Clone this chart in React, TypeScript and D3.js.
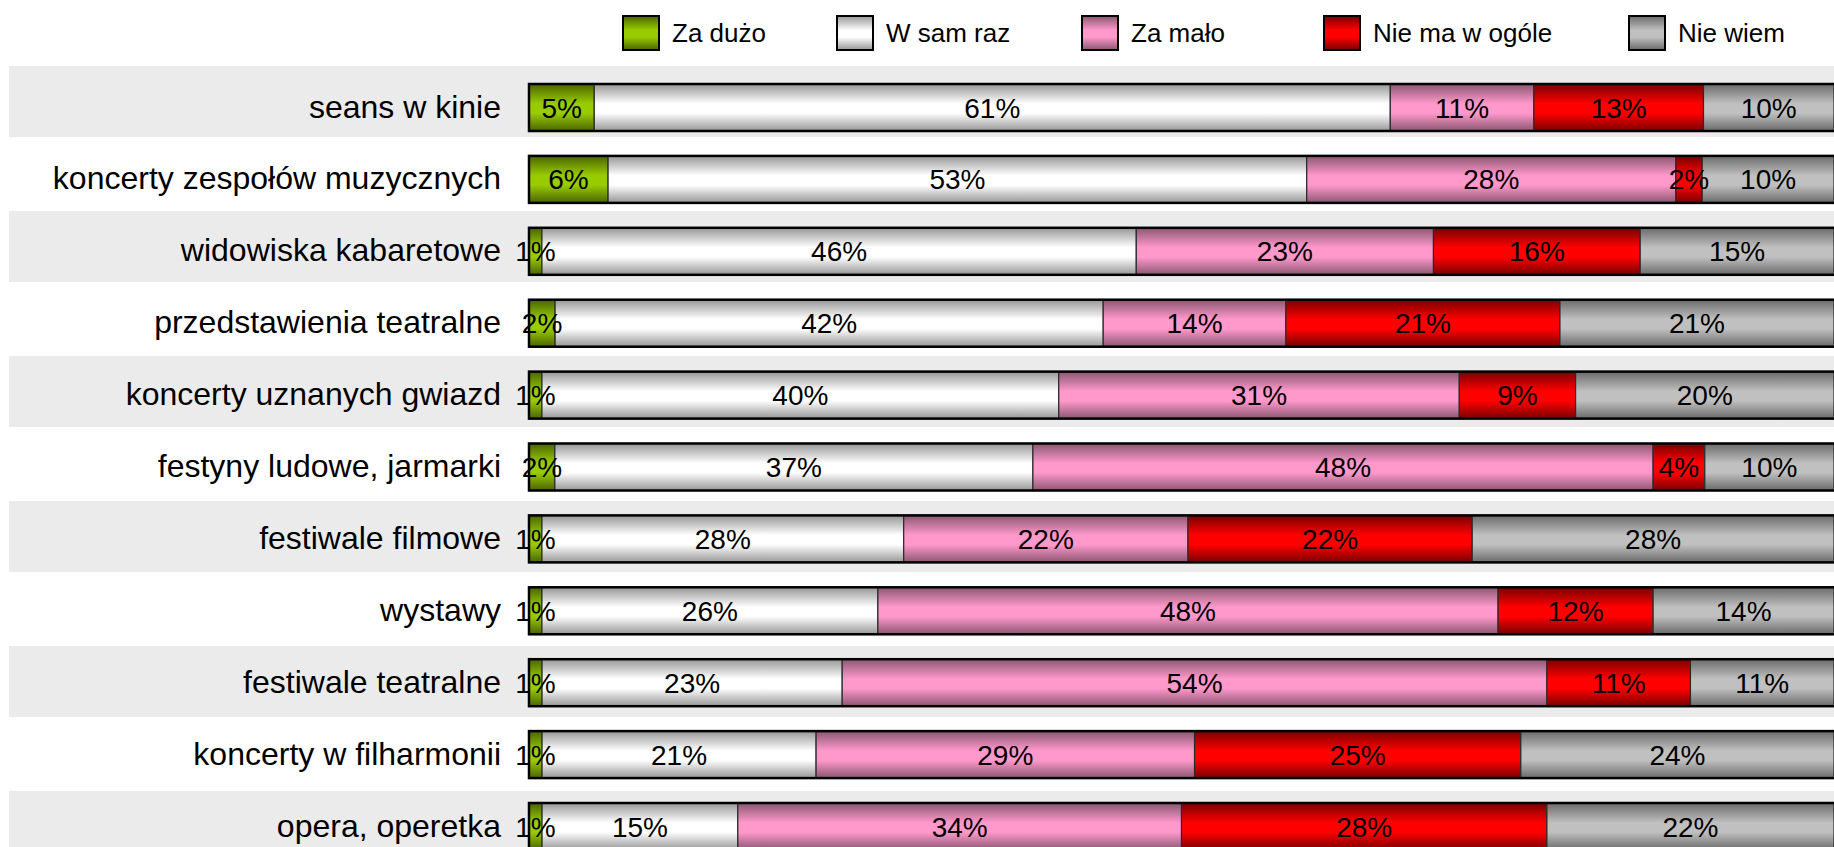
import React, { useEffect, useRef } from 'react';
import * as d3 from 'd3';

const categories = [
  'seans w kinie',
  'koncerty zespołów muzycznych',
  'widowiska kabaretowe',
  'przedstawienia teatralne',
  'koncerty uznanych gwiazd',
  'festyny ludowe, jarmarki',
  'festiwale filmowe',
  'wystawy',
  'festiwale teatralne',
  'koncerty w filharmonii',
  'opera, operetka',
];

const seriesNames = ['Za dużo', 'W sam raz', 'Za mało', 'Nie ma w ogóle', 'Nie wiem'];

const zaDuzo = [5, 6, 1, 2, 1, 2, 1, 1, 1, 1, 1];
const wSamRaz = [61, 53, 46, 42, 40, 37, 28, 26, 23, 21, 15];
const zaMalo = [11, 28, 23, 14, 31, 48, 22, 48, 54, 29, 34];
const nieMa = [13, 2, 16, 21, 9, 4, 22, 12, 11, 25, 28];
const nieWiem = [10, 10, 15, 21, 20, 10, 28, 14, 11, 24, 22];

// [edge, middle] colours of each series gradient
const seriesColors = [
  ['#4a6400', '#99cc00'],
  ['#969696', '#ffffff'],
  ['#8a5670', '#ff99cc'],
  ['#780000', '#ff0000'],
  ['#6a6a6a', '#c0c0c0'],
];

const legendX = [623, 837, 1082, 1324, 1629];

export default function App() {
  const svgRef = useRef<SVGSVGElement>(null);

  useEffect(() => {
    if (!svgRef.current) return;
    const width = 1834;
    const height = 847;
    const svg = d3.select(svgRef.current);
    svg.selectAll('*').remove();
    svg.attr('width', width).attr('height', height);

    const font = 'Liberation Sans, Arial, sans-serif';
    const seriesVals = [zaDuzo, wSamRaz, zaMalo, nieMa, nieWiem];

    const rows = categories.map((c, i) => {
      const r: any = { cat: c };
      seriesNames.forEach((s, j) => { r[s] = seriesVals[j][i]; });
      return r;
    });

    const stack = d3.stack<any>().keys(seriesNames).offset(d3.stackOffsetExpand);
    const stacked = stack(rows);

    const x = d3.scaleLinear().domain([0, 1]).range([529, 1834]);
    // background bands and bars use slightly different steps, as in the original
    const band = d3.scaleBand().domain(categories).range([66, 66 + 72.5 * categories.length]).padding(0);
    const yBar = d3.scaleBand().domain(categories).range([84, 84 + 71.9 * categories.length]).padding(0);
    const barH = 47;

    // gradients
    const defs = svg.append('defs');
    seriesColors.forEach((c, j) => {
      const lg = defs.append('linearGradient')
        .attr('id', `grad${j}`)
        .attr('x1', 0).attr('y1', 0).attr('x2', 0).attr('y2', 1);
      lg.append('stop').attr('offset', '0%').attr('stop-color', c[0]);
      lg.append('stop').attr('offset', '42%').attr('stop-color', c[1]);
      lg.append('stop').attr('offset', '62%').attr('stop-color', c[1]);
      lg.append('stop').attr('offset', '100%').attr('stop-color', c[0]);
    });

    // background bands
    svg.append('g')
      .selectAll('rect')
      .data(categories.filter((_, i) => i % 2 === 0))
      .join('rect')
      .attr('x', 9)
      .attr('y', d => band(d)!)
      .attr('width', width - 9)
      .attr('height', 71)
      .attr('fill', '#ebebeb');

    // category labels
    svg.append('g')
      .selectAll('text')
      .data(categories)
      .join('text')
      .attr('x', 501)
      .attr('y', d => yBar(d)! + barH / 2 + 10)
      .attr('text-anchor', 'end')
      .style('font-family', font)
      .style('font-size', '32px')
      .style('fill', '#000')
      .text(d => d);

    // segments
    const segG = svg.append('g');
    stacked.forEach((layer, j) => {
      segG.append('g')
        .selectAll('rect')
        .data(layer)
        .join('rect')
        .attr('x', d => x(d[0]))
        .attr('y', d => yBar(d.data.cat)!)
        .attr('width', d => x(d[1]) - x(d[0]))
        .attr('height', barH)
        .attr('fill', `url(#grad${j})`)
        .attr('stroke', '#2a2a2a')
        .attr('stroke-width', 1.2);
    });

    // outer border
    svg.append('g')
      .selectAll('rect')
      .data(categories)
      .join('rect')
      .attr('x', x(0))
      .attr('y', d => yBar(d)!)
      .attr('width', x(1) - x(0) + 2)
      .attr('height', barH)
      .attr('fill', 'none')
      .attr('stroke', '#000')
      .attr('stroke-width', 2.5);

    // value labels
    stacked.forEach((layer, j) => {
      segG.append('g')
        .selectAll('text')
        .data(layer)
        .join('text')
        .attr('x', d => (x(d[0]) + x(d[1])) / 2)
        .attr('y', d => yBar(d.data.cat)! + barH / 2 + 10)
        .attr('text-anchor', 'middle')
        .style('font-family', font)
        .style('font-size', '28px')
        .style('fill', '#000')
        .text(d => `${d.data[seriesNames[j]]}%`);
    });

    // legend
    const leg = svg.append('g');
    seriesNames.forEach((s, j) => {
      leg.append('rect')
        .attr('x', legendX[j])
        .attr('y', 16)
        .attr('width', 36)
        .attr('height', 34)
        .attr('fill', `url(#grad${j})`)
        .attr('stroke', '#000')
        .attr('stroke-width', 2);
      leg.append('text')
        .attr('x', legendX[j] + 49)
        .attr('y', 42)
        .style('font-family', font)
        .style('font-size', '26px')
        .style('fill', '#000')
        .text(s);
    });
  }, []);

  return (
    <div style={{ position: 'absolute', left: 0, top: 0, width: 1834, height: 847, overflow: 'hidden', background: '#fff' }}>
      <svg ref={svgRef} style={{ display: 'block' }}></svg>
    </div>
  );
}
